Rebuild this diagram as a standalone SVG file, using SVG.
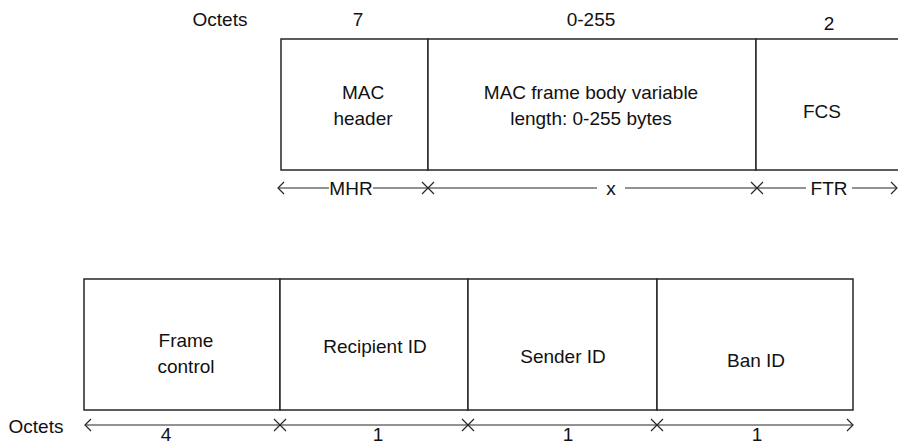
<svg xmlns="http://www.w3.org/2000/svg" width="898" height="446" viewBox="0 0 898 446">
  <defs>
    <style>
      .box { fill: #ffffff; stroke: #262626; stroke-width: 1.5; }
      .dim { stroke: #262626; stroke-width: 1.2; fill: none; }
      .lbl { font-family: "Liberation Sans", Arial, sans-serif; font-size: 19px; fill: #111111; text-anchor: middle; }
      .bg { fill: #ffffff; }
    </style>
  </defs>

  <!-- Upper frame: MAC frame layout -->
  <text class="lbl" x="220" y="26">Octets</text>
  <text class="lbl" x="358" y="26">7</text>
  <text class="lbl" x="591" y="26">0-255</text>
  <text class="lbl" x="829" y="30">2</text>

  <g id="mac-header">
    <rect class="box" x="281" y="39" width="147" height="131"/>
    <text class="lbl" x="363" y="99">MAC</text>
    <text class="lbl" x="363" y="125">header</text>
  </g>
  <g id="mac-body">
    <rect class="box" x="428" y="39" width="328" height="131"/>
    <text class="lbl" x="591" y="99">MAC frame body variable</text>
    <text class="lbl" x="591" y="125">length: 0-255 bytes</text>
  </g>
  <g id="fcs">
    <rect class="box" x="756" y="39" width="150" height="131"/>
    <text class="lbl" x="822" y="118">FCS</text>
  </g>

  <!-- Lower frame: header fields -->
  <g id="frame-control">
    <rect class="box" x="84" y="279" width="196" height="131"/>
    <text class="lbl" x="186" y="347">Frame</text>
    <text class="lbl" x="186" y="373">control</text>
  </g>
  <g id="recipient-id">
    <rect class="box" x="280" y="279" width="188" height="131"/>
    <text class="lbl" x="375" y="353">Recipient ID</text>
  </g>
  <g id="sender-id">
    <rect class="box" x="468" y="279" width="189" height="131"/>
    <text class="lbl" x="563" y="363">Sender ID</text>
  </g>
  <g id="ban-id">
    <rect class="box" x="657" y="279" width="196" height="131"/>
    <text class="lbl" x="756" y="367">Ban ID</text>
  </g>

  <!-- Dimension lines -->
  <g id="connectors">
    <!-- upper: MHR / x / FTR -->
    <line class="dim" x1="278" y1="188" x2="897" y2="188"/>
    <path class="dim" d="M284,182 L278,188 L284,194"/>
    <path class="dim" d="M891,182 L897,188 L891,194"/>
    <path class="dim" d="M422,182 L434,194 M422,194 L434,182"/>
    <path class="dim" d="M751,182 L763,194 M751,194 L763,182"/>
    <rect class="bg" x="329" y="179" width="44" height="18"/>
    <text class="lbl" x="351" y="195">MHR</text>
    <rect class="bg" x="597" y="179" width="28" height="18"/>
    <text class="lbl" x="611" y="195">x</text>
    <rect class="bg" x="806" y="179" width="46" height="18"/>
    <text class="lbl" x="829" y="195">FTR</text>

    <!-- lower: octet counts -->
    <line class="dim" x1="85" y1="425" x2="853" y2="425"/>
    <path class="dim" d="M91,419 L85,425 L91,431"/>
    <path class="dim" d="M847,419 L853,425 L847,431"/>
    <path class="dim" d="M274,419 L286,431 M274,431 L286,419"/>
    <path class="dim" d="M462,419 L474,431 M462,431 L474,419"/>
    <path class="dim" d="M651,419 L663,431 M651,431 L663,419"/>
  </g>

  <text class="lbl" x="36" y="433">Octets</text>
  <text class="lbl" x="166" y="441">4</text>
  <text class="lbl" x="378" y="441">1</text>
  <text class="lbl" x="568" y="441">1</text>
  <text class="lbl" x="757" y="441">1</text>
</svg>
